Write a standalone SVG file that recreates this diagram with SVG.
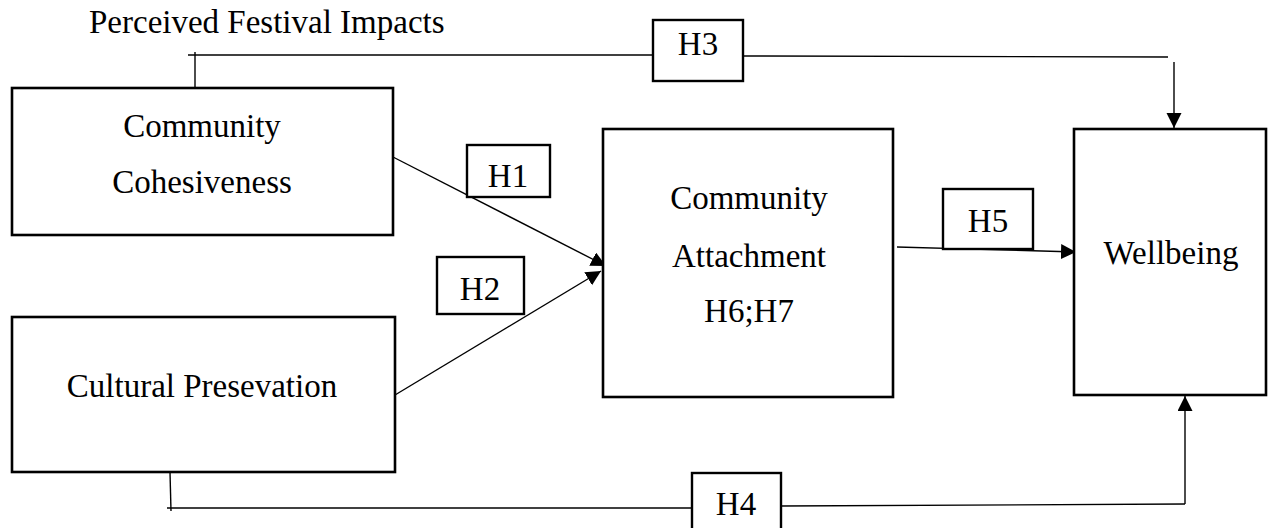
<svg xmlns="http://www.w3.org/2000/svg" width="1268" height="528" viewBox="0 0 1268 528">
<defs>
<marker id="arr" markerUnits="userSpaceOnUse" markerWidth="16" markerHeight="16" refX="15" refY="7.5" orient="auto">
<path d="M0,0 L15,7.5 L0,15 z" fill="#000"/>
</marker>
</defs>
<style>
.box{fill:#fff;stroke:#000;stroke-width:2.6}
.hbox{fill:#fff;stroke:#000;stroke-width:2.4}
.t{font-family:"Liberation Serif","Times New Roman",serif;font-size:33px;fill:#000;text-anchor:middle}
.c{fill:none;stroke:#000;stroke-width:1.4}
</style>
<rect width="1268" height="528" fill="#fff"/>
<text class="t" x="89" y="33" style="text-anchor:start">Perceived Festival Impacts</text>
<g id="connectors">
<path class="c" d="M195,52 V88"/>
<path class="c" d="M188,55 H653"/>
<path class="c" d="M743,56 L1168,57"/>
<path class="c" d="M1174,62 L1174,128" marker-end="url(#arr)"/>
<path class="c" d="M393,157 L606,266" marker-end="url(#arr)"/>
<path class="c" d="M395,395 L601,271" marker-end="url(#arr)"/>
<path class="c" d="M897,247 L1076,252" marker-end="url(#arr)"/>
<path class="c" d="M170,472 L171,511"/>
<path class="c" d="M167,508 H692"/>
<path class="c" d="M781,506 L1185,504"/>
<path class="c" d="M1185,504 V396" marker-end="url(#arr)"/>
</g>
<g id="cc">
<rect class="box" x="12" y="88" width="381" height="147"/>
<text class="t" x="202" y="137">Community</text>
<text class="t" x="202" y="193">Cohesiveness</text>
</g>
<g id="cp">
<rect class="box" x="12" y="317" width="383" height="155"/>
<text class="t" x="202" y="397">Cultural Presevation</text>
</g>
<g id="ca">
<rect class="box" x="603" y="129" width="290" height="268"/>
<text class="t" x="749" y="209">Community</text>
<text class="t" x="749" y="267">Attachment</text>
<text class="t" x="749" y="322">H6;H7</text>
</g>
<g id="wb">
<rect class="box" x="1074" y="129" width="192" height="266"/>
<text class="t" x="1171" y="264">Wellbeing</text>
</g>
<g id="h1">
<rect class="hbox" x="467" y="145" width="83" height="52"/>
<text class="t" x="508" y="187">H1</text>
</g>
<g id="h2">
<rect class="hbox" x="437" y="257" width="87" height="57"/>
<text class="t" x="480" y="300">H2</text>
</g>
<g id="h3">
<rect class="hbox" x="653" y="20" width="90" height="61"/>
<text class="t" x="698" y="55">H3</text>
</g>
<g id="h4">
<rect class="hbox" x="692" y="473" width="89" height="60"/>
<text class="t" x="736" y="515">H4</text>
</g>
<g id="h5">
<rect class="hbox" x="943" y="189" width="90" height="60"/>
<text class="t" x="988" y="232">H5</text>
</g>
</svg>
